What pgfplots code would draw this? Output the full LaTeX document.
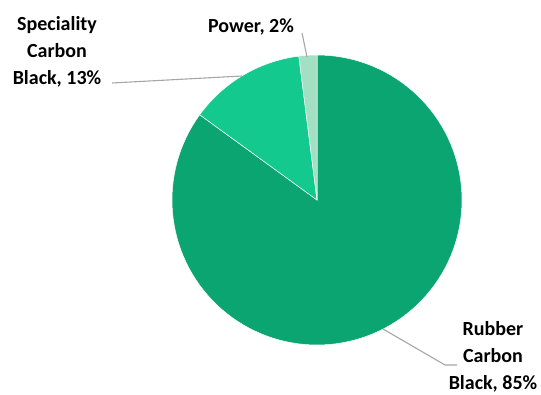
\documentclass[border=0pt]{standalone}
\usepackage{pgfplots}
\pgfplotsset{compat=1.18}
\usepackage{fontspec}
\setmainfont{Carlito}

\definecolor{rubber}{HTML}{0BA572}
\definecolor{special}{HTML}{13C98D}
\definecolor{power}{HTML}{A3DFC3}
\definecolor{leader}{HTML}{A6A6A6}

% shares in percent
\def\vRubber{85}
\def\vSpecial{13}
\def\vPower{2}

% pie centre and radius (canvas units)
\def\cx{317}
\def\cy{194}
\def\rr{145}

\tikzset{lbl/.style={font=\bfseries\fontsize{20}{27}\selectfont, align=center, text=black, inner sep=0pt}}

\begin{document}
\begin{tikzpicture}
\pgfmathsetmacro{\aA}{90}
\pgfmathsetmacro{\aB}{\aA-3.6*\vRubber}
\pgfmathsetmacro{\aC}{\aB-3.6*\vSpecial}
\pgfmathsetmacro{\aD}{\aC-3.6*\vPower}
\begin{axis}[
  scale only axis, width=541pt, height=394pt,
  xmin=0, xmax=541, ymin=0, ymax=394,
  hide axis, clip=false,
]
% slices, clockwise from twelve o'clock
\addplot[fill=rubber, draw=white, line width=0.5pt, domain=\aB:\aA, samples=120]
  ({\cx+\rr*cos(x)}, {\cy+\rr*sin(x)}) -- (axis cs:\cx,\cy) -- cycle;
\addplot[fill=special, draw=white, line width=0.5pt, domain=\aC:\aB, samples=40]
  ({\cx+\rr*cos(x)}, {\cy+\rr*sin(x)}) -- (axis cs:\cx,\cy) -- cycle;
\addplot[fill=power, draw=white, line width=0.5pt, domain=\aD:\aC, samples=10]
  ({\cx+\rr*cos(x)}, {\cy+\rr*sin(x)}) -- (axis cs:\cx,\cy) -- cycle;

% leader lines
\addplot[leader, line width=1.1pt] coordinates {(112,311) (242,318)};
\addplot[leader, line width=1.1pt] coordinates {(302,361) (307,337)};
\addplot[leader, line width=1.1pt] coordinates {(383,65) (445,29) (457,29)};

% data labels
\node[lbl] at (axis cs:57,342) {Speciality\\Carbon\\Black, 13\%};
\node[lbl] at (axis cs:251,367) {Power, 2\%};
\node[lbl] at (axis cs:493,37) {Rubber\\Carbon\\Black, 85\%};
\end{axis}
\pgfresetboundingbox
\path[use as bounding box] (0,0) rectangle (541pt,394pt);
\end{tikzpicture}
\end{document}
